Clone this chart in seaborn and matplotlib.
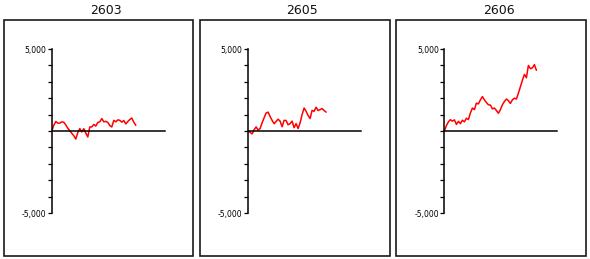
import matplotlib
matplotlib.use("Agg")
import matplotlib.pyplot as plt
import seaborn as sns
import pandas as pd
from matplotlib.patches import Rectangle
from matplotlib.ticker import FixedLocator, FuncFormatter

# ---- data ----
titles = ["2603", "2605", "2606"]
values_2603 = [0, 350, 580, 480, 480, 560, 530, 370, 170, 20, -140, -290, -490,
               -100, 150, -60, 140, -130, -365, 245, 250, 400, 300, 520, 560, 760,
               560, 590, 520, 330, 245, 650, 560, 680, 650, 540, 640, 430, 580,
               700, 790, 540, 345]
values_2605 = [0, -80, -180, 80, 250, 60, 150, 500, 800, 1100, 1150, 880, 650,
               445, 580, 720, 600, 260, 650, 640, 380, 450, 600, 200, 450, 150,
               500, 1000, 1400, 1200, 950, 760, 1260, 1200, 1450, 1250, 1300,
               1370, 1250, 1150]
values_2606 = [0, 330, 560, 690, 600, 680, 400, 590, 450, 660, 560, 780, 700,
               1100, 1400, 1300, 1700, 1650, 1900, 2100, 1900, 1740, 1600, 1580,
               1350, 1400, 1250, 1080, 1300, 1600, 1800, 1950, 1850, 1680, 1900,
               2000, 1950, 2300, 2700, 3100, 3450, 3250, 4000, 3800, 3850, 4050,
               3700]
series = [values_2603, values_2605, values_2606]
y_ticks = list(range(-5000, 5001, 1000))
y_labeled = [5000, -5000]
x_max = 56.5

sns.set_style("white")
plt.rcParams['font.family'] = ['DejaVu Sans']

W, H = 590, 259
fig = plt.figure(figsize=(W / 100, H / 100), dpi=100)

panel_dx = 196.3
for i, (title, vals) in enumerate(zip(titles, series)):
    off = i * panel_dx
    # frame
    fx0, fx1 = 3.8 + off, 193.3 + off
    fy0, fy1 = 19.8, 256.0
    fig.patches.append(Rectangle((fx0 / W, 1 - fy1 / H), (fx1 - fx0) / W,
                                 (fy1 - fy0) / H, transform=fig.transFigure,
                                 fill=False, edgecolor="#1a1a1a", linewidth=1.2))
    fig.text((106 + off) / W, 1 - 10.5 / H, title, ha="center", va="center",
             fontsize=9, color="#111111")

    ax0, ax1 = 51.8 + off, 164.8 + off
    ay_top, ay_bot = 49.0, 213.0
    ax = fig.add_axes([ax0 / W, 1 - ay_bot / H, (ax1 - ax0) / W, (ay_bot - ay_top) / H])
    ax.set_facecolor("none")
    df = pd.DataFrame({"x": range(len(vals)), "y": vals})
    sns.lineplot(data=df, x="x", y="y", ax=ax, color="#ff0000", linewidth=1.1)
    ax.set_xlim(0, x_max)
    ax.set_ylim(-5000, 5000)
    ax.set_xlabel("")
    ax.set_ylabel("")
    for s in ["top", "right"]:
        ax.spines[s].set_visible(False)
    ax.spines["bottom"].set_position(("data", 0))
    ax.spines["bottom"].set_linewidth(1.1)
    ax.spines["bottom"].set_color("black")
    ax.spines["left"].set_linewidth(1.1)
    ax.spines["left"].set_color("black")
    ax.set_xticks([])
    ax.yaxis.set_major_locator(FixedLocator(y_ticks))
    ax.yaxis.set_major_formatter(FuncFormatter(
        lambda v, p: (f"{int(v):,}" if int(round(v)) in y_labeled else "")))
    ax.tick_params(axis="y", direction="out", length=3, width=0.9, color="black",
                   labelsize=5.5, pad=1, labelcolor="black", left=True)
    ax.grid(False)

fig.savefig("out.png", dpi=100)
